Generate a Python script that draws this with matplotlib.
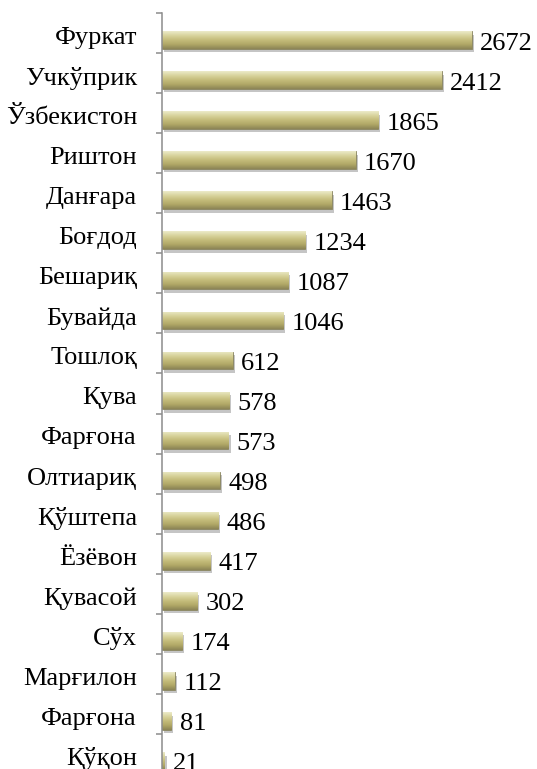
import numpy as np
import matplotlib
matplotlib.use("Agg")
import matplotlib.pyplot as plt
import matplotlib.patheffects as pe
from matplotlib.colors import LinearSegmentedColormap

districts = ["Фуркат", "Учкўприк", "Ўзбекистон", "Риштон", "Данғара", "Боғдод",
             "Бешариқ", "Бувайда", "Тошлоқ", "Қува", "Фарғона", "Олтиариқ",
             "Қўштепа", "Ёзёвон", "Қувасой", "Сўх", "Марғилон", "Фарғона", "Қўқон"]
values = [2672, 2412, 1865, 1670, 1463, 1234, 1087, 1046, 612, 578, 573, 498,
          486, 417, 302, 174, 112, 81, 21]

plt.rcParams['font.family'] = ['Liberation Serif', 'DejaVu Serif']

fig = plt.figure(figsize=(5.37, 7.69), dpi=100)
ax = fig.add_axes([162 / 537, 1 - 785 / 769, 375 / 537, 772 / 769])

# olive gradient from light top to darker bottom
olive = LinearSegmentedColormap.from_list(
    "olive", ["#ecebc9", "#d8d39c", "#c4bc7a", "#b0a766", "#8c8556"])
grad = np.linspace(0, 1, 64).reshape(-1, 1)

y = np.arange(len(values))
h = 0.44
bars = ax.barh(y, values, height=h, color="#bdb67a", edgecolor="#7b7650",
               linewidth=0.5)
for bar in bars:
    bar.set_path_effects([pe.SimplePatchShadow(offset=(1.5, -2.5),
                                               shadow_rgbFace="#808080", alpha=0.45),
                          pe.Normal()])
    x0, w = bar.get_x(), bar.get_width()
    y0, bh = bar.get_y(), bar.get_height()
    im = ax.imshow(grad, cmap=olive, aspect="auto", origin="upper",
                   extent=(x0, x0 + w, y0 + bh, y0), zorder=2.5)
    im.set_clip_path(bar)

for i, v in enumerate(values):
    ax.annotate(str(v), xy=(v, i), xytext=(6, -2.5), textcoords="offset points",
                va="center", ha="left", fontsize=19)

# category names, a touch above the bar centre like the original
for i, name in enumerate(districts):
    ax.annotate(name, xy=(0, i), xytext=(-18, 1.5), textcoords="offset points",
                va="center", ha="right", fontsize=19, annotation_clip=False)

ax.set_xlim(0, 3233)
ax.set_ylim(18.6, -0.675)
ax.set_yticks(y)
ax.set_yticklabels([])
ax.set_yticks(np.arange(len(values)) - 0.675, minor=True)
ax.tick_params(axis="y", which="major", length=0)
ax.tick_params(axis="y", which="minor", length=4.5, width=1.1,
               color="#8c8c8c", direction="out")
ax.set_xticks([])
for s in ["top", "right", "bottom"]:
    ax.spines[s].set_visible(False)
ax.spines["left"].set_color("#8c8c8c")
ax.spines["left"].set_linewidth(1.1)

fig.savefig("out.png", dpi=100)
